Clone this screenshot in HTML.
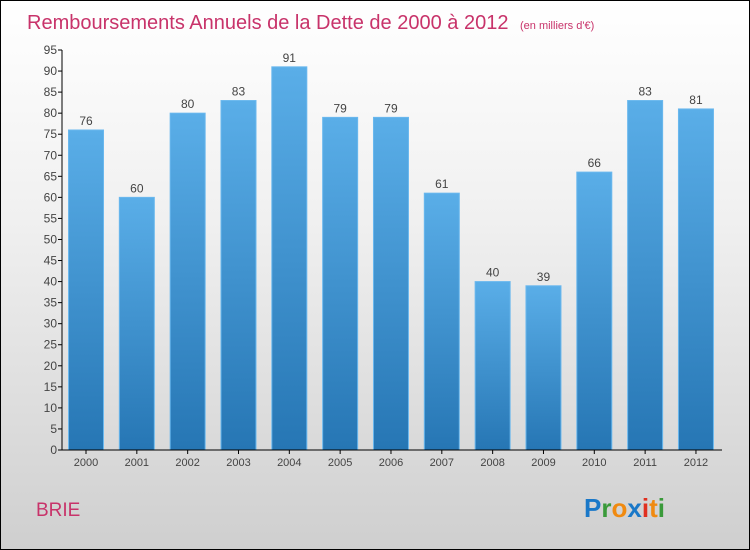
<!DOCTYPE html>
<html><head><meta charset="utf-8"><style>
body{margin:0}
#c{position:relative;width:748px;height:548px;border:1px solid #000;background:linear-gradient(#ffffff,#f0f0f0 40%,#cfcfcf);font-family:"Liberation Sans",sans-serif;overflow:hidden}
svg{position:absolute;left:0;top:0}
</style></head><body>
<div id="c">
<svg id="s" width="748" height="548">
<defs><linearGradient id="g" x1="0" y1="0" x2="0" y2="1"><stop offset="0" stop-color="#5aaee8"/><stop offset="1" stop-color="#2676b4"/></linearGradient></defs>
<text x="26" y="28" font-size="20" fill="#c8336a">Remboursements Annuels de la Dette de 2000 à 2012 <tspan font-size="11" dx="6">(en milliers d'€)</tspan></text>
<text x="35" y="515" font-size="19" fill="#c8336a">BRIE</text>
<g font-size="26" font-weight="bold"><text x="583" y="516"><tspan fill="#1a78c8">P</tspan><tspan fill="#3a9a3a">r</tspan><tspan fill="#f08a10">o</tspan><tspan fill="#1a78c8">x</tspan><tspan fill="#e03020">i</tspan><tspan fill="#f08a10">t</tspan><tspan fill="#3a9a3a">i</tspan></text></g>
</svg>
</div>
<script>
const years=["2000","2001","2002","2003","2004","2005","2006","2007","2008","2009","2010","2011","2012"];
const values=[76,60,80,83,91,79,79,61,40,39,66,83,81];
const yTicks=[0,5,10,15,20,25,30,35,40,45,50,55,60,65,70,75,80,85,90,95];
const s=document.getElementById('s'),NS="http://www.w3.org/2000/svg";
const y0=449,yTop=49,yMax=95,xL=61,xR=721;
const y=v=>y0-(y0-yTop)*v/yMax;
const step=50.83;
const xc=i=>85+step*i;
function el(t,a){const e=document.createElementNS(NS,t);for(const k in a)e.setAttribute(k,a[k]);s.appendChild(e);return e;}
yTicks.forEach(v=>{
 const l=el('line',{x1:xL-4,x2:xL,y1:y(v),y2:y(v),stroke:'#000'});
 
 
 const t=el('text',{x:xL-5,y:y(v)+4,'text-anchor':'end','font-size':12,fill:'#444'});
 t.textContent=v;
 
 
});
years.forEach((yr,i)=>{
 const v=values[i],cx=xc(i),w=35;
 const r=el('rect',{x:cx-w/2,y:y(v),width:w,height:y0-y(v),fill:'url(#g)',stroke:'#6ab8ee','stroke-width':1});
 
 
 const t=el('text',{x:cx,y:y(v)-5,'text-anchor':'middle','font-size':12,fill:'#444'});
 t.textContent=v;
 
 
 const tk=el('line',{x1:cx,x2:cx,y1:y0,y2:y0+4,stroke:'#000'});
 
 
 const xl=el('text',{x:cx,y:y0+16,'text-anchor':'middle','font-size':11,fill:'#444'});
 xl.textContent=yr;
 
 
});
const ya=el('line',{x1:xL,x2:xL,y1:yTop,y2:y0,stroke:'#000'});


const xa=el('line',{x1:xL,x2:xR,y1:y0,y2:y0,stroke:'#000'});


</script>
</body></html>
